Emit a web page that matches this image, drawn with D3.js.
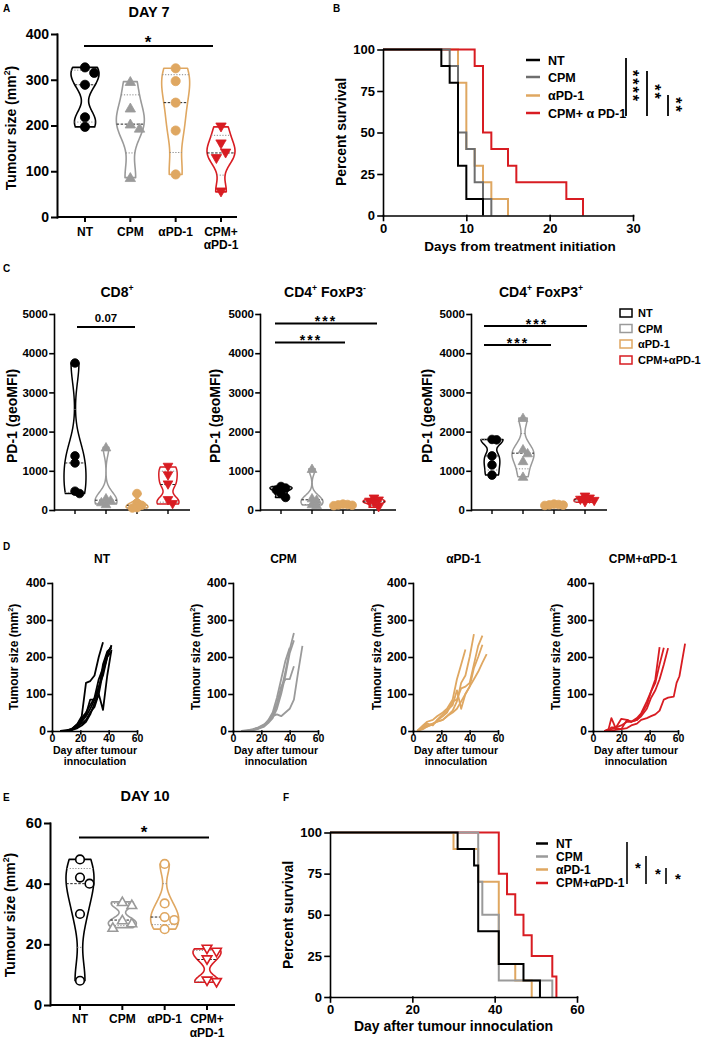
<!DOCTYPE html>
<html><head><meta charset="utf-8">
<script src="https://cdn.jsdelivr.net/npm/d3@7"></script>
<style>body{margin:0;background:#fff}</style>
</head><body>
<svg id="c" width="705" height="1040"></svg>
<script>
// ================= DATA =================
// Panel A – tumour size at day 7
const catA = ["NT", "CPM", "αPD-1", "CPM+αPD-1"];
const d7NT    = [327, 315, 289, 218, 197];
const d7CPM   = [296, 238, 203, 194, 86];
const d7PD1   = [325, 297, 250, 189, 93];
const d7Combo = [197, 160, 140, 128, 55];
const ticksA = [0, 100, 200, 300, 400];

// Panel B – survival from treatment initiation [day, %]
const survB_NT    = [[0,100],[7,90],[8,80],[9,30],[10,10],[12,0]];
const survB_CPM   = [[0,100],[8,90],[9,50],[10,40],[11,20],[12,10],[13,0]];
const survB_PD1   = [[0,100],[9,80],[10,40],[11,30],[12,20],[13,10],[15,0]];
const survB_Combo = [[0,100],[11,90],[12,50],[13,40],[15,30],[16,20],[22,10],[24,0]];
const legendB = ["NT", "CPM", "αPD-1", "CPM+ α PD-1"];
const ticksBx = [0, 10, 20, 30];
const ticksBy = [0, 25, 50, 75, 100];

// Panel C – PD-1 geoMFI
const cd8NT    = [3750, 1380, 1200, 480, 420];
const cd8CPM   = [1600, 300, 250, 200, 150];
const cd8PD1   = [420, 180, 120, 60, 50];
const cd8Combo = [1100, 880, 650, 250, 150];
const cd4negNT    = [600, 560, 510, 420, 320];
const cd4negCPM   = [1050, 300, 260, 150, 130];
const cd4negPD1   = [150, 140, 130, 120, 110];
const cd4negCombo = [290, 240, 210, 170, 70];
const cd4posNT    = [1800, 1790, 1380, 1150, 890];
const cd4posCPM   = [2350, 1550, 1450, 1250, 850];
const cd4posPD1   = [150, 140, 130, 125, 115];
const cd4posCombo = [340, 290, 260, 230, 200];
const ticksC = [0, 1000, 2000, 3000, 4000, 5000];
const legendC = ["NT", "CPM", "αPD-1", "CPM+αPD-1"];

// Panel D – individual growth curves (days, then per-mouse sizes)
const dNT_days = [6,10,14,18,21,24,27,30,33,36,39,42];
const dNT_mice = [
  [0,0,5,20,40,130,135,150,200,240,null,null],
  [0,0,3,15,30,45,85,85,120,150,200,232],
  [0,2,5,10,25,40,60,85,110,180,215,225],
  [0,0,4,12,20,30,50,65,100,57,150,220],
  [0,1,6,18,35,50,70,90,140,170,210,230],
  [0,0,2,8,15,25,45,75,100,160,200,215]
];
const dCPM_days = [6,10,14,18,22,25,28,31,34,37,40,43,46,49];
const dCPM_mice = [
  [0,1,3,8,15,25,40,70,110,160,220,265,null,null],
  [0,0,2,6,12,22,35,60,100,150,210,245,null,null],
  [0,2,5,10,18,28,45,75,120,140,140,175,null,null],
  [0,0,3,7,14,25,40,45,40,50,60,85,160,230],
  [0,1,4,9,16,30,50,90,140,190,225,null,null,null]
];
const dPD1_days = [3,7,10,14,17,21,24,28,31,34,37,40,43,46,49,52];
const dPD1_mice = [
  [0,10,15,20,25,30,40,55,80,130,150,200,262,null,null,null],
  [0,8,12,18,28,40,50,80,85,115,120,130,180,230,258,null],
  [0,12,20,15,30,45,55,70,110,60,100,120,170,200,233,null],
  [0,5,12,20,25,30,40,50,60,80,100,120,140,160,185,208],
  [0,15,25,30,40,50,60,85,140,180,220,null,null,null,null,null]
];
const dCombo_days = [8,11,13,16,20,24,27,31,34,38,41,44,47,50,53,57,59,61,65];
const dCombo_mice = [
  [0,5,35,8,5,30,25,30,45,70,107,140,227,null,null,null,null,null,null],
  [0,0,10,10,15,25,25,30,40,60,90,110,140,180,224,null,null,null,null],
  [0,0,0,3,5,8,15,20,30,35,40,45,55,85,90,93,130,148,236],
  [0,3,5,8,33,30,25,35,48,80,107,130,180,225,null,null,null,null,null]
];
const titlesD = ["NT", "CPM", "αPD-1", "CPM+αPD-1"];
const ticksDy = [0, 100, 200, 300, 400];
const ticksDx = [0, 20, 40, 60];

// Panel E – tumour size at day 10
const d10NT    = [48, 42, 40, 30, 8];
const d10CPM   = [34, 33, 28, 27, 25.5];
const d10PD1   = [46.5, 33.5, 29, 28, 25];
const d10Combo = [18.5, 17.5, 15, 8, 7.5];
const ticksE = [0, 20, 40, 60];

// Panel F – survival after tumour inoculation [day, %]
const survF_NT    = [[0,100],[31,90],[35,80],[36,40],[41,20],[47,10],[51,0]];
const survF_CPM   = [[0,100],[36,70],[37,50],[41,10],[54,0]];
const survF_PD1   = [[0,100],[30,90],[36,70],[41,20],[45,10],[49,0]];
const survF_Combo = [[0,100],[41,75],[43,62.5],[45,50],[47,37.5],[49,25],[54,12.5],[55,0]];
const legendF = ["NT", "CPM", "αPD-1", "CPM+αPD-1"];
const ticksFx = [0, 20, 40, 60];
const ticksFy = [0, 25, 50, 75, 100];

// ================= STYLE =================
const FONT = "'Liberation Sans', Arial, Helvetica, sans-serif";
const C_NT = "#000000", C_CPM = "#9a9a9a", C_PD1 = "#dfa761", C_COMBO = "#d81c22", C_CPM_B = "#6e6e6e";
const groupColors = [C_NT, C_CPM, C_PD1, C_COMBO];
const shapes = ["circle", "tri", "circle", "tridown"];

const svg = d3.select("#c");

// ================= HELPERS =================
function rich(g, x, y, parts, fs, anchor = "middle", rot = 0, extra = {}) {
  const t = g.append("text")
    .attr("transform", `translate(${x},${y}) rotate(${rot})`)
    .attr("text-anchor", anchor).attr("font-size", fs)
    .attr("font-weight", "bold").attr("font-family", FONT).attr("fill", extra.fill || "#000");
  if (extra.ls) t.attr("letter-spacing", extra.ls);
  let shifted = 0;
  parts.forEach(p => {
    if (typeof p === "string") p = { t: p };
    const sp = t.append("tspan").text(p.t);
    const want = p.sup ? -fs * 0.42 : 0;
    if (want !== shifted) { sp.attr("dy", want - shifted); shifted = want; }
    if (p.sup) sp.attr("font-size", fs * 0.62);
  });
  return t;
}
function styleAxis(a, fs, sw) {
  a.attr("font-family", FONT).attr("font-size", fs).attr("font-weight", "bold");
  a.selectAll("path,line").attr("stroke", "#000").attr("stroke-width", sw).attr("stroke-linecap", "square");
  a.selectAll("text").attr("fill", "#000");
}
const fmtInt = d3.format("d");
function yAxis(g, scale, x, ticks, fs, sw, tl, pad = 2) {
  const a = g.append("g").attr("transform", `translate(${x},0)`)
    .call(d3.axisLeft(scale).tickValues(ticks).tickFormat(fmtInt).tickSizeOuter(0).tickSizeInner(tl).tickPadding(pad));
  styleAxis(a, fs, sw);
  return a;
}
function xAxis(g, scale, y, ticks, fs, sw, tl, pad = 2) {
  const a = g.append("g").attr("transform", `translate(0,${y})`)
    .call(d3.axisBottom(scale).tickValues(ticks).tickFormat(fmtInt).tickSizeOuter(0).tickSizeInner(tl).tickPadding(pad));
  styleAxis(a, fs, sw);
  return a;
}
function line(g, x1, y1, x2, y2, sw = 2, col = "#000") {
  g.append("line").attr("x1", x1).attr("y1", y1).attr("x2", x2).attr("y2", y2)
    .attr("stroke", col).attr("stroke-width", sw);
}
function quant(s, p) {
  const h = (s.length + 1) * p, lo = Math.floor(h);
  if (lo < 1) return s[0];
  if (lo >= s.length) return s[s.length - 1];
  return s[lo - 1] + (h - lo) * (s[lo] - s[lo - 1]);
}
function violin(g, vals, cx, y, W, color, bwf, sw) {
  const s = vals.slice().sort(d3.ascending);
  const lo = s[0], hi = s[s.length - 1], rng = (hi - lo) || 1;
  const h = rng * bwf;
  const dens = v => d3.sum(s, d => Math.exp(-0.5 * ((v - d) / h) ** 2));
  const grid = d3.range(81).map(i => lo + rng * i / 80);
  const mx = d3.max(grid, dens);
  const hw = v => W * dens(v) / mx;
  g.append("path").datum(grid)
    .attr("d", d3.area().x0(v => cx - hw(v)).x1(v => cx + hw(v)).y(v => y(v)).curve(d3.curveCatmullRom))
    .attr("fill", "none").attr("stroke", color).attr("stroke-width", sw).attr("stroke-linejoin", "round");
  [[0.25, false], [0.5, true], [0.75, false]].forEach(([p, med]) => {
    const v = quant(s, p), w = hw(v);
    g.append("line").attr("x1", cx - w).attr("x2", cx + w).attr("y1", y(v)).attr("y2", y(v))
      .attr("stroke", med ? "#222" : "#8a8a8a").attr("stroke-width", 1)
      .attr("stroke-dasharray", med ? "2.5,1.5" : "1.2,1.6");
  });
}
function marker(g, shape, x, y, r, color, filled, sw) {
  let el;
  if (shape === "circle") {
    el = g.append("circle").attr("cx", x).attr("cy", y).attr("r", r);
  } else {
    const R = r * 1.3, dir = shape === "tri" ? 1 : -1;
    const pts = [[0, -R * dir], [R * 0.866, R * 0.5 * dir], [-R * 0.866, R * 0.5 * dir]];
    el = g.append("path").attr("d", "M" + pts.map(p => [x + p[0], y + p[1] + (dir * R * 0.15)].join(",")).join("L") + "Z");
  }
  el.attr("fill", filled ? color : "#fff").attr("stroke", color).attr("stroke-width", filled ? 0.8 : sw);
}
function scatter(g, vals, cx, y, shape, color, r, filled, mind, sw = 1.6) {
  const placed = [];
  const step = mind * 0.5;
  const cands = [0, 1, -1, 2, -2, 3, -3, 4, -4, 5, -5].map(k => k * step);
  vals.forEach(v => {
    const py = y(v);
    let off = 0;
    for (const c of cands) {
      if (placed.every(p => Math.hypot(p[0] - c, p[1] - py) >= mind)) { off = c; break; }
    }
    placed.push([off, py]);
    marker(g, shape, cx + off, py, r, color, filled, sw);
  });
}
// horizontal stars: (x, cy) is the glyph centre; vertical stars (rot 90) likewise
function stars(g, x, cy, n, fs, rot = 0, ls = 0) {
  const t = g.append("text").attr("font-family", FONT).attr("font-weight", "bold")
    .attr("font-size", fs).attr("text-anchor", "middle").attr("fill", "#000")
    .attr("letter-spacing", ls).text("*".repeat(n));
  if (rot) t.attr("transform", `translate(${x - fs * 0.58},${cy}) rotate(${rot})`);
  else t.attr("x", x).attr("y", cy + fs * 0.58);
  return t;
}
function panelLetter(x, y, s) { rich(svg, x, y, [s], 10, "start"); }
function catLabel(g, x, y0, s, fs, lh) {
  const parts = s.includes("+") ? [s.split("+")[0] + "+", s.split("+")[1]] : [s];
  parts.forEach((p, i) => rich(g, x, y0 + i * lh, [p], fs));
}

// ================= PANEL A =================
{
  const g = svg.append("g");
  panelLetter(3, 12, "A");
  rich(g, 149, 17, ["DAY 7"], 14.5);
  const y = d3.scaleLinear().domain([0, 400]).range([217, 34]);
  const x = d3.scalePoint().domain(catA).range([85, 221]);
  yAxis(g, y, 57, ticksA, 14, 2, 5, 3);
  line(g, 57, 217, 237, 217, 2);
  catA.forEach(c => { line(g, x(c), 217, x(c), 222, 2); catLabel(g, x(c), 236, c, 12, 13); });
  rich(g, 16, 128, ["Tumour size (mm", { t: "2", sup: true }, ")"], 14, "middle", -90);
  const series = [d7NT, d7CPM, d7PD1, d7Combo];
  series.forEach((vals, i) => violin(g, vals, x(catA[i]), y, 14, groupColors[i], 0.17, 1.6));
  series.forEach((vals, i) => scatter(g, vals, x(catA[i]), y, shapes[i], groupColors[i], 4.6, true, 9.2));
  line(g, 84, 46, 213, 46, 2.2);
  stars(g, 148, 38, 1, 17);
}

// ================= PANEL B =================
function survival(g, x, y, series, colors, sw) {
  const ln = d3.line().x(d => x(d[0])).y(d => y(d[1])).curve(d3.curveStepAfter);
  series.forEach((s, i) => g.append("path").datum(s).attr("d", ln)
    .attr("fill", "none").attr("stroke", colors[i]).attr("stroke-width", sw));
}
{
  const g = svg.append("g");
  panelLetter(333, 12, "B");
  const x = d3.scaleLinear().domain([0, 30]).range([383, 633]);
  const y = d3.scaleLinear().domain([0, 100]).range([215.5, 49.5]);
  // draw order: αPD-1, combo, CPM, NT
  survival(g, x, y, [survB_PD1, survB_Combo, survB_CPM, survB_NT], [C_PD1, C_COMBO, C_CPM_B, C_NT], 2);
  yAxis(g, y, 383, ticksBy, 13, 1.6, 5, 3);
  xAxis(g, x, 215.5, ticksBx, 13, 1.6, 5, 3);
  rich(g, 346, 132, ["Percent survival"], 14, "middle", -90);
  rich(g, 520, 251, ["Days from treatment initiation"], 13.5);
  const lc = [C_NT, C_CPM_B, C_PD1, C_COMBO];
  const ly = [60, 77, 95.5, 113];
  legendB.forEach((s, i) => {
    line(g, 526, ly[i], 540, ly[i], 2.5, lc[i]);
    rich(g, 548, ly[i] + 4.5, [s], 12.5, "start");
  });
  line(g, 626, 58, 626, 116, 1.8);
  stars(g, 636.5, 86.5, 4, 16, 90, 2);
  line(g, 647, 71, 647, 116, 1.8);
  stars(g, 658.5, 92.5, 2, 16, 90, 2);
  line(g, 668, 95, 668, 116, 1.8);
  stars(g, 679.5, 105.5, 2, 16, 90, 2);
}

// ================= PANEL C =================
{
  const g = svg.append("g");
  panelLetter(3, 272, "C");
  const y = d3.scaleLinear().domain([0, 5000]).range([510, 314]);
  const subs = [
    { ax: 54, title: ["CD8", { t: "+", sup: true }], tx: 117, lx: 17,
      data: [cd8NT, cd8CPM, cd8PD1, cd8Combo] },
    { ax: 260, title: ["CD4", { t: "+", sup: true }, " FoxP3", { t: "-", sup: true }], tx: 325, lx: 220,
      data: [cd4negNT, cd4negCPM, cd4negPD1, cd4negCombo] },
    { ax: 471, title: ["CD4", { t: "+", sup: true }, " FoxP3", { t: "+", sup: true }], tx: 541, lx: 432,
      data: [cd4posNT, cd4posCPM, cd4posPD1, cd4posCombo] }
  ];
  subs.forEach(sp => {
    const x = d3.scalePoint().domain(legendC).range([sp.ax + 21, sp.ax + 114]);
    yAxis(g, y, sp.ax, ticksC, 11.5, 1.6, 4, 2);
    line(g, sp.ax, 510, sp.ax + 136, 510, 1.6);
    legendC.forEach(c => line(g, x(c), 510, x(c), 514, 1.4));
    rich(g, sp.tx, 297, sp.title, 14);
    rich(g, sp.lx, 416, ["PD-1 (geoMFI)"], 14, "middle", -90);
    sp.data.forEach((vals, i) => violin(g, vals, x(legendC[i]), y, 11, groupColors[i], 0.15, 1.5));
    sp.data.forEach((vals, i) => scatter(g, vals, x(legendC[i]), y, shapes[i], groupColors[i], 4.3, true, 4.6));
  });
  // stats
  line(g, 77, 327, 135, 327, 2);
  rich(g, 106, 322, ["0.07"], 11.5);
  line(g, 275, 323.5, 377, 323.5, 2);
  stars(g, 326, 318, 3, 14, 0, 2);
  line(g, 275, 342.5, 345, 342.5, 2);
  stars(g, 311, 337, 3, 14, 0, 2);
  line(g, 484, 326, 587, 326, 2);
  stars(g, 537, 320.5, 3, 14, 0, 2);
  line(g, 484, 345, 551, 345, 2);
  stars(g, 518, 339.5, 3, 14, 0, 2);
  // legend
  const ly = [313, 328.5, 344, 360];
  legendC.forEach((s, i) => {
    g.append("rect").attr("x", 620).attr("y", ly[i] - 4).attr("width", 12).attr("height", 8)
      .attr("fill", "#fff").attr("stroke", groupColors[i]).attr("stroke-width", 1.5);
    rich(g, 638, ly[i] + 4.2, [s], 11, "start");
  });
}

// ================= PANEL D =================
{
  const g = svg.append("g");
  panelLetter(3, 550, "D");
  const y = d3.scaleLinear().domain([0, 400]).range([731, 583]);
  const axX = [52, 233, 413, 593];
  const tX = [102, 283.5, 463.5, 643];
  const lX = [18, 200, 381, 560];
  const sets = [[dNT_days, dNT_mice], [dCPM_days, dCPM_mice], [dPD1_days, dPD1_mice], [dCombo_days, dCombo_mice]];
  sets.forEach(([days, mice], i) => {
    const x = d3.scaleLinear().domain([0, 60]).range([axX[i], axX[i] + 85]);
    const ln = d3.line().defined(d => d[1] !== null).x(d => x(d[0])).y(d => y(d[1]));
    mice.forEach(m => g.append("path").datum(days.map((d, k) => [d, m[k]])).attr("d", ln)
      .attr("fill", "none").attr("stroke", groupColors[i]).attr("stroke-width", 1.8).attr("stroke-linejoin", "round"));
    yAxis(g, y, axX[i], ticksDy, 12, 1.6, 4, 2);
    xAxis(g, x, 731, ticksDx, 10.5, 1.6, 3, 1);
    rich(g, tX[i], 563, [titlesD[i]], 12);
    rich(g, lX[i], 657, ["Tumour size (mm", { t: "2", sup: true }, ")"], 12, "middle", -90);
    rich(g, axX[i] + 43, 754, ["Day after tumour"], 10.5);
    rich(g, axX[i] + 43, 765, ["innoculation"], 10.5);
  });
}

// ================= PANEL E =================
{
  const g = svg.append("g");
  panelLetter(3, 801, "E");
  rich(g, 145, 801, ["DAY 10"], 14.5);
  const y = d3.scaleLinear().domain([0, 60]).range([1005, 823]);
  const x = d3.scalePoint().domain(catA).range([80, 207]);
  yAxis(g, y, 50, ticksE, 14.5, 2, 5, 3);
  line(g, 50, 1005, 235, 1005, 2);
  catA.forEach(c => { line(g, x(c), 1005, x(c), 1010, 2); catLabel(g, x(c), 1023, c, 12, 13.5); });
  rich(g, 15, 915, ["Tumour size (mm", { t: "2", sup: true }, ")"], 14, "middle", -90);
  const series = [d10NT, d10CPM, d10PD1, d10Combo];
  series.forEach((vals, i) => violin(g, vals, x(catA[i]), y, 14, groupColors[i], 0.17, 1.6));
  series.forEach((vals, i) => scatter(g, vals, x(catA[i]), y, shapes[i], groupColors[i], 4.3, false, 9.5, 1.6));
  line(g, 79, 837.5, 209, 837.5, 2.2);
  stars(g, 144, 828, 1, 17);
}

// ================= PANEL F =================
{
  const g = svg.append("g");
  panelLetter(283, 801, "F");
  const x = d3.scaleLinear().domain([0, 60]).range([330, 577]);
  const y = d3.scaleLinear().domain([0, 100]).range([997, 832.5]);
  survival(g, x, y, [survF_Combo, survF_PD1, survF_CPM, survF_NT], [C_COMBO, C_PD1, C_CPM, C_NT], 2);
  yAxis(g, y, 330, ticksFy, 13, 1.6, 5, 3);
  xAxis(g, x, 997, ticksFx, 13, 1.6, 5, 3);
  rich(g, 293, 915, ["Percent survival"], 14, "middle", -90);
  rich(g, 453.5, 1031, ["Day after tumour innoculation"], 14);
  const lc = [C_NT, C_CPM, C_PD1, C_COMBO];
  const ly = [843.5, 856.5, 869.5, 883];
  legendF.forEach((s, i) => {
    line(g, 536, ly[i], 548, ly[i], 2.5, lc[i]);
    rich(g, 556, ly[i] + 4.3, [s], 12, "start");
  });
  line(g, 627, 842, 627, 884, 1.6);
  stars(g, 638, 864, 1, 15);
  line(g, 646, 856, 646, 884, 1.6);
  stars(g, 658, 870, 1, 15);
  line(g, 666, 868, 666, 884, 1.6);
  stars(g, 678, 875, 1, 15);
}
</script>
</body></html>
